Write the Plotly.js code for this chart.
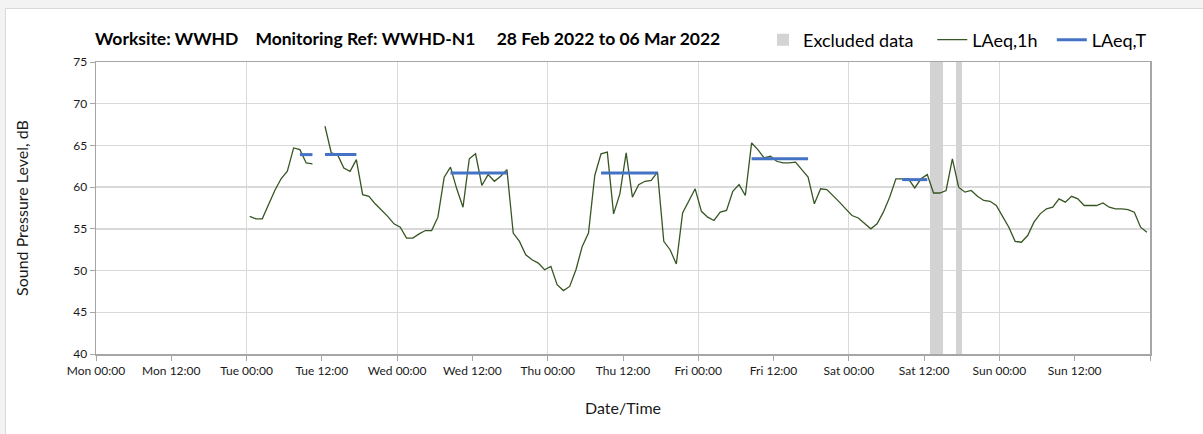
<!DOCTYPE html>
<html>
<head>
<meta charset="utf-8">
<script src="https://cdn.plot.ly/plotly-3.0.1.min.js"></script>
<style>
  html, body { margin: 0; padding: 0; background: #f3f3f3; }
  #frame {
    position: absolute; left: 5px; top: 8px; width: 1300px; height: 500px;
    background: #ffffff; border: 1px solid #d9d9d9;
  }
  #chart { position: absolute; left: 0; top: 0; width: 1203px; height: 434px; }
</style>
</head>
<body>
<div id="frame"></div>
<div id="chart"></div>
<script>
// ─────────────────────────────
// DATOS
// ─────────────────────────────
const axisStart = '2022-02-28 00:00';
const axisEnd = '2022-03-07 00:00';

// x tick labels every 12 h from axisStart (last one, at the right edge, left blank)
const xTickLabels = ['Mon 00:00', 'Mon 12:00', 'Tue 00:00', 'Tue 12:00', 'Wed 00:00',
                     'Wed 12:00', 'Thu 00:00', 'Thu 12:00', 'Fri 00:00', 'Fri 12:00',
                     'Sat 00:00', 'Sat 12:00', 'Sun 00:00', 'Sun 12:00', ''];

// LAeq,1h: one value per hour, first reading Tue 01 Mar 00:30 (null = no data)
const hourlyStart = '2022-03-01 00:30';
const laeq1hTue = [56.5, 56.2, 56.2, 57.9, 59.6, 61.0, 61.9, 64.7, 64.5, 62.9, 62.8, null,
                   67.3, 64.1, 63.9, 62.3, 61.9, 63.3, 59.1, 58.9, 58.0, 57.3, 56.5, 55.6];
const laeq1hWed = [55.2, 53.9, 53.9, 54.4, 54.8, 54.8, 56.4, 61.2, 62.4, 59.8, 57.6, 63.4,
                   64.0, 60.2, 61.5, 60.7, 61.3, 62.1, 54.5, 53.5, 51.9, 51.3, 50.9, 50.1];
const laeq1hThu = [50.5, 48.3, 47.6, 48.1, 50.1, 52.9, 54.5, 61.4, 64.0, 64.2, 56.8, 59.2,
                   64.1, 58.8, 60.3, 60.7, 60.8, 61.8, 53.5, 52.5, 50.8, 56.9, 58.4, 59.8];
const laeq1hFri = [57.1, 56.4, 56.0, 57.0, 57.2, 59.5, 60.3, 59.0, 65.3, 64.5, 63.5, 63.7,
                   63.1, 62.9, 62.9, 63.0, 62.1, 61.2, 58.0, 59.8, 59.7, 59.0, 58.2, 57.4];
const laeq1hSat = [56.6, 56.3, 55.7, 55.0, 55.6, 57.0, 58.8, 61.0, 61.0, 61.0, 59.9, 61.0,
                   61.5, 59.3, 59.3, 59.6, 63.4, 60.0, 59.4, 59.6, 58.9, 58.4, 58.3, 57.8];
const laeq1hSun = [56.5, 55.2, 53.5, 53.4, 54.2, 55.8, 56.8, 57.4, 57.6, 58.6, 58.2, 58.9,
                   58.6, 57.8, 57.8, 57.8, 58.1, 57.6, 57.4, 57.4, 57.3, 57.0, 55.2, 54.6];

// LAeq,T: daytime period levels
const laeqTStart = ['2022-03-01 08:30', '2022-03-01 12:30', '2022-03-02 08:30',
                    '2022-03-03 08:30', '2022-03-04 08:30', '2022-03-05 08:30'];
const laeqTEnd   = ['2022-03-01 10:30', '2022-03-01 17:30', '2022-03-02 17:30',
                    '2022-03-03 17:30', '2022-03-04 17:30', '2022-03-05 12:30'];
const laeqTValue = [63.9, 63.9, 61.7, 61.7, 63.4, 60.9];

// Excluded data periods
const excludedStart = ['2022-03-05 13:00', '2022-03-05 17:00'];
const excludedEnd   = ['2022-03-05 15:00', '2022-03-05 18:00'];

const yMin = 40;
const yMax = 75;

// ─────────────────────────────
// HELPERS
// ─────────────────────────────
const HOUR = 3600000;
const toMs = s => Date.parse(s.replace(' ', 'T') + ':00Z');

// ─────────────────────────────
// TRAZAS
// ─────────────────────────────
const laeq1h = [].concat(laeq1hTue, laeq1hWed, laeq1hThu, laeq1hFri, laeq1hSat, laeq1hSun);
const t0 = toMs(hourlyStart);
const laeq1hX = laeq1h.map((_, i) => t0 + i * HOUR);

const laeqTX = [];
const laeqTY = [];
laeqTValue.forEach((v, i) => {
  laeqTX.push(toMs(laeqTStart[i]), toMs(laeqTEnd[i]), null);
  laeqTY.push(v, v, null);
});

const exMid = excludedStart.map((s, i) => (toMs(s) + toMs(excludedEnd[i])) / 2);
const exWidth = excludedStart.map((s, i) => toMs(excludedEnd[i]) - toMs(s));

const xTickVals = xTickLabels.map((_, i) => toMs(axisStart) + i * 12 * HOUR);

const traces = [
  {
    type: 'bar',
    name: 'Excluded data\u00a0\u00a0\u00a0',
    x: exMid,
    y: exMid.map(() => yMax - yMin),
    base: yMin,
    width: exWidth,
    marker: { color: '#d3d3d3', line: { width: 0 } },
    hoverinfo: 'skip'
  },
  {
    type: 'scatter',
    mode: 'lines',
    name: 'LAeq,1h\u00a0\u00a0',
    x: laeq1hX,
    y: laeq1h,
    connectgaps: false,
    line: { color: '#375623', width: 1.3 }
  },
  {
    type: 'scatter',
    mode: 'lines',
    name: 'LAeq,T',
    x: laeqTX,
    y: laeqTY,
    xaxis: 'x2',
    line: { color: '#4472c4', width: 3 }
  }
];

const FONT = 'Lato, "Open Sans", sans-serif';

const layout = {
  width: 1203,
  height: 434,
  margin: { l: 96, r: 53, t: 62, b: 80 },
  paper_bgcolor: 'rgba(0,0,0,0)',
  plot_bgcolor: '#ffffff',
  font: { family: FONT, size: 12, color: '#262626' },
  showlegend: true,
  title: {
    text: '<b>Worksite: WWHD\u00a0\u00a0\u00a0 Monitoring Ref: WWHD-N1\u00a0\u00a0\u00a0\u00a0 28 Feb 2022 to 06 Mar 2022</b>',
    font: { family: FONT, size: 17.5, color: '#000000' },
    x: 95 / 1203, xanchor: 'left', xref: 'container',
    y: 1 - 39 / 434, yanchor: 'middle', yref: 'container'
  },
  legend: {
    orientation: 'h',
    x: (763 - 96) / 1054, xanchor: 'left',
    y: 1 + (62 - 40) / 292, yanchor: 'middle',
    font: { family: FONT, size: 18, color: '#000000' },
    bgcolor: 'rgba(0,0,0,0)',
    traceorder: 'normal'
  },
  bargap: 0,
  xaxis: {
    type: 'date',
    range: [axisStart, axisEnd],
    tickmode: 'array',
    tickvals: xTickVals,
    ticktext: xTickLabels,
    ticks: 'outside',
    ticklen: 5,
    tickcolor: '#a6a6a6',
    showgrid: false,
    showline: true,
    linecolor: '#a6a6a6',
    linewidth: 1.5,
    mirror: true,
    zeroline: false,
    tickfont: { size: 12, color: '#1a1a1a' },
    title: {
      text: 'Date/Time',
      font: { size: 16, color: '#1a1a1a' },
      standoff: 26
    },
    automargin: false
  },
  xaxis2: {
    type: 'date',
    overlaying: 'x',
    anchor: 'y',
    range: [axisStart, axisEnd],
    tick0: axisStart,
    dtick: 24 * HOUR,
    showgrid: true,
    gridcolor: '#d9d9d9',
    showticklabels: false,
    ticks: '',
    showline: false,
    zeroline: false
  },
  yaxis: {
    range: [yMin, yMax],
    dtick: 5,
    ticks: 'outside',
    ticklen: 5,
    tickcolor: '#a6a6a6',
    showgrid: true,
    gridcolor: '#d9d9d9',
    gridwidth: 1.5,
    showline: true,
    linecolor: '#a6a6a6',
    linewidth: 1.5,
    mirror: true,
    zeroline: false,
    tickfont: { size: 12, color: '#1a1a1a' },
    title: {
      text: 'Sound Pressure Level, dB',
      font: { size: 16, color: '#1a1a1a' },
      standoff: 40
    },
    automargin: false
  }
};

Plotly.newPlot('chart', traces, layout, { displayModeBar: false, staticPlot: true });
</script>
</body>
</html>
